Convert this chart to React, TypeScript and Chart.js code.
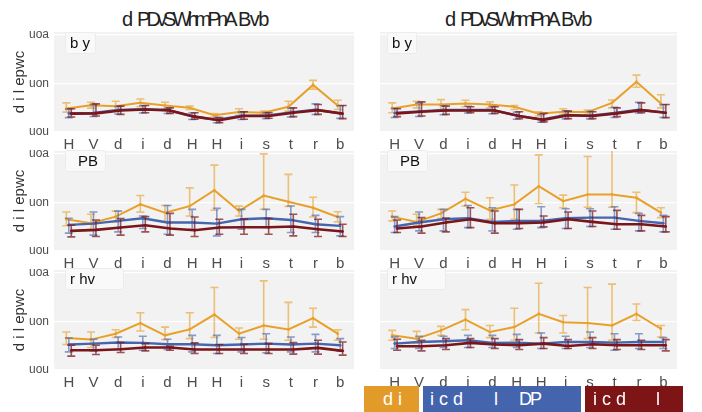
import React, { useEffect, useRef } from 'react';
import { Chart, registerables } from 'chart.js';
Chart.register(...registerables);

// ---------------- data ----------------
const categories = ['H', 'V', 'd', 'i', 'd', 'H', 'H', 'i', 's', 't', 'r', 'b'];
const yTickValues = [0, 0.5, 1.0];
const yTickLabels = ['uou', 'uon', 'uoa'];
const columnTitleParts = ['d', 'PDvSWhmPnA', 'Bvb'];
const rowLabels = ['b y', 'PB', 'r hv'];
const yAxisTitle = 'd i l epwc';
const seriesNames = ['d i', 'i c d', 'l', 'DP'];

// row 1 ("b y"), left column
const byLeftOrange = [0.242, 0.276, 0.266, 0.300, 0.273, 0.249, 0.172, 0.205, 0.199, 0.260, 0.485, 0.273];
const byLeftOrangeLo = [0.205, 0.246, 0.215, 0.260, 0.240, 0.232, 0.155, 0.172, 0.182, 0.215, 0.441, 0.232];
const byLeftOrangeHi = [0.300, 0.307, 0.317, 0.340, 0.307, 0.266, 0.189, 0.239, 0.215, 0.317, 0.532, 0.327];
const byLeftBlue = [0.192, 0.196, 0.226, 0.236, 0.226, 0.162, 0.125, 0.169, 0.169, 0.202, 0.229, 0.192];
const byLeftBlueLo = [0.148, 0.160, 0.185, 0.195, 0.190, 0.128, 0.095, 0.128, 0.138, 0.155, 0.180, 0.140];
const byLeftBlueHi = [0.235, 0.285, 0.262, 0.270, 0.245, 0.195, 0.150, 0.205, 0.200, 0.245, 0.290, 0.270];
const byLeftRed = [0.189, 0.192, 0.222, 0.232, 0.222, 0.158, 0.121, 0.165, 0.165, 0.199, 0.225, 0.189];
const byLeftRedLo = [0.155, 0.165, 0.182, 0.199, 0.192, 0.131, 0.097, 0.131, 0.141, 0.158, 0.182, 0.138];
const byLeftRedHi = [0.239, 0.290, 0.266, 0.273, 0.249, 0.199, 0.148, 0.209, 0.199, 0.249, 0.283, 0.273];

// row 1 ("b y"), right column
const byRightOrange = [0.242, 0.283, 0.283, 0.293, 0.283, 0.260, 0.189, 0.209, 0.205, 0.300, 0.518, 0.293];
const byRightOrangeLo = [0.199, 0.249, 0.232, 0.260, 0.249, 0.232, 0.165, 0.182, 0.182, 0.249, 0.461, 0.249];
const byRightOrangeHi = [0.300, 0.317, 0.333, 0.327, 0.310, 0.273, 0.209, 0.239, 0.226, 0.330, 0.586, 0.384];
const byRightBlue = [0.196, 0.212, 0.226, 0.226, 0.226, 0.169, 0.128, 0.175, 0.169, 0.196, 0.229, 0.202];
const byRightBlueLo = [0.150, 0.160, 0.178, 0.195, 0.188, 0.132, 0.100, 0.135, 0.135, 0.150, 0.195, 0.150];
const byRightBlueHi = [0.245, 0.300, 0.270, 0.265, 0.262, 0.205, 0.180, 0.218, 0.212, 0.255, 0.305, 0.280];
const byRightRed = [0.192, 0.209, 0.222, 0.222, 0.222, 0.165, 0.125, 0.172, 0.165, 0.192, 0.225, 0.199];
const byRightRedLo = [0.158, 0.165, 0.182, 0.199, 0.192, 0.138, 0.104, 0.138, 0.138, 0.158, 0.199, 0.148];
const byRightRedHi = [0.239, 0.310, 0.266, 0.260, 0.260, 0.209, 0.192, 0.215, 0.209, 0.249, 0.300, 0.283];

// row 2 ("PB"), left column
const pbLeftOrange = [0.327, 0.286, 0.354, 0.480, 0.395, 0.462, 0.626, 0.411, 0.571, 0.507, 0.446, 0.350];
const pbLeftOrangeLo = [0.260, 0.220, 0.300, 0.400, 0.300, 0.360, 0.420, 0.360, 0.430, 0.460, 0.350, 0.300];
const pbLeftOrangeHi = [0.401, 0.378, 0.411, 0.571, 0.469, 0.650, 0.885, 0.462, 1.000, 0.789, 0.554, 0.405];
const pbLeftBlue = [0.269, 0.282, 0.310, 0.337, 0.293, 0.293, 0.282, 0.327, 0.337, 0.320, 0.276, 0.259];
const pbLeftBlueLo = [0.184, 0.163, 0.197, 0.232, 0.173, 0.224, 0.156, 0.224, 0.242, 0.191, 0.191, 0.156];
const pbLeftBlueHi = [0.337, 0.401, 0.411, 0.360, 0.469, 0.429, 0.439, 0.429, 0.429, 0.463, 0.367, 0.354];
const pbLeftRed = [0.207, 0.218, 0.242, 0.265, 0.232, 0.214, 0.242, 0.245, 0.245, 0.252, 0.224, 0.201];
const pbLeftRedLo = [0.146, 0.150, 0.163, 0.197, 0.163, 0.150, 0.173, 0.173, 0.173, 0.156, 0.150, 0.150];
const pbLeftRedHi = [0.265, 0.319, 0.334, 0.354, 0.388, 0.350, 0.327, 0.327, 0.334, 0.378, 0.327, 0.276];

// row 2 ("PB"), right column
const pbRightOrange = [0.354, 0.300, 0.388, 0.537, 0.418, 0.480, 0.667, 0.514, 0.582, 0.582, 0.548, 0.395];
const pbRightOrangeLo = [0.310, 0.260, 0.337, 0.463, 0.327, 0.327, 0.490, 0.446, 0.450, 0.450, 0.395, 0.344];
const pbRightOrangeHi = [0.412, 0.378, 0.429, 0.605, 0.548, 0.680, 0.990, 0.575, 0.973, 1.040, 0.605, 0.446];
const pbRightBlue = [0.252, 0.293, 0.327, 0.337, 0.300, 0.310, 0.310, 0.337, 0.344, 0.344, 0.310, 0.286];
const pbRightBlueLo = [0.190, 0.207, 0.207, 0.241, 0.207, 0.224, 0.241, 0.231, 0.252, 0.224, 0.207, 0.197];
const pbRightBlueHi = [0.354, 0.401, 0.429, 0.469, 0.446, 0.429, 0.456, 0.435, 0.435, 0.456, 0.388, 0.367];
const pbRightRed = [0.231, 0.252, 0.293, 0.327, 0.286, 0.286, 0.293, 0.327, 0.300, 0.276, 0.276, 0.252];
const pbRightRedLo = [0.190, 0.184, 0.197, 0.241, 0.184, 0.231, 0.248, 0.231, 0.252, 0.224, 0.207, 0.197];
const pbRightRedHi = [0.320, 0.344, 0.340, 0.446, 0.412, 0.429, 0.361, 0.401, 0.412, 0.418, 0.367, 0.354];

// row 3 ("r hv"), left column
const rhvLeftOrange = [0.330, 0.313, 0.374, 0.483, 0.357, 0.418, 0.571, 0.374, 0.459, 0.418, 0.534, 0.374];
const rhvLeftOrangeLo = [0.262, 0.232, 0.334, 0.401, 0.313, 0.323, 0.334, 0.316, 0.316, 0.306, 0.442, 0.306];
const rhvLeftOrangeHi = [0.391, 0.391, 0.415, 0.589, 0.442, 0.589, 0.850, 0.432, 0.918, 0.697, 0.636, 0.415];
const rhvLeftBlue = [0.262, 0.272, 0.283, 0.279, 0.265, 0.265, 0.255, 0.262, 0.272, 0.262, 0.272, 0.255];
const rhvLeftBlueLo = [0.187, 0.197, 0.211, 0.204, 0.211, 0.187, 0.170, 0.187, 0.177, 0.187, 0.187, 0.197];
const rhvLeftBlueHi = [0.330, 0.316, 0.340, 0.347, 0.316, 0.357, 0.357, 0.334, 0.374, 0.340, 0.367, 0.323];
const rhvLeftRed = [0.204, 0.204, 0.214, 0.231, 0.231, 0.211, 0.211, 0.211, 0.211, 0.211, 0.228, 0.197];
const rhvLeftRedLo = [0.143, 0.160, 0.181, 0.197, 0.204, 0.170, 0.170, 0.170, 0.170, 0.163, 0.163, 0.153];
const rhvLeftRedHi = [0.255, 0.255, 0.283, 0.272, 0.245, 0.279, 0.262, 0.265, 0.272, 0.283, 0.306, 0.289];

// row 3 ("r hv"), right column
const rhvRightOrange = [0.357, 0.323, 0.408, 0.520, 0.391, 0.442, 0.578, 0.493, 0.483, 0.459, 0.578, 0.425];
const rhvRightOrangeLo = [0.306, 0.279, 0.357, 0.415, 0.333, 0.306, 0.381, 0.381, 0.323, 0.306, 0.510, 0.340];
const rhvRightOrangeHi = [0.408, 0.398, 0.449, 0.622, 0.459, 0.636, 0.894, 0.561, 0.850, 0.884, 0.680, 0.459];
const rhvRightBlue = [0.272, 0.289, 0.296, 0.306, 0.279, 0.282, 0.272, 0.289, 0.289, 0.282, 0.289, 0.289];
const rhvRightBlueLo = [0.221, 0.221, 0.231, 0.231, 0.231, 0.231, 0.221, 0.221, 0.231, 0.204, 0.221, 0.221];
const rhvRightBlueHi = [0.340, 0.347, 0.347, 0.357, 0.357, 0.367, 0.381, 0.347, 0.391, 0.374, 0.374, 0.333];
const rhvRightRed = [0.245, 0.245, 0.255, 0.279, 0.262, 0.255, 0.272, 0.248, 0.265, 0.255, 0.255, 0.255];
const rhvRightRedLo = [0.204, 0.197, 0.211, 0.231, 0.221, 0.211, 0.221, 0.221, 0.221, 0.211, 0.211, 0.197];
const rhvRightRedHi = [0.316, 0.306, 0.323, 0.323, 0.323, 0.313, 0.333, 0.313, 0.333, 0.313, 0.306, 0.313];

// ---------------- styles / layout ----------------
const ORANGE = '#E8A02A';
const BLUE = '#4565AE';
const RED = '#7A1519';
const ORANGE_ERR = 'rgba(232,160,42,0.62)';
const BLUE_ERR = 'rgba(69,101,174,0.62)';
const RED_ERR = 'rgba(122,21,25,0.72)';
const FONT = '"Liberation Sans", Arial, Helvetica, sans-serif';

const PLOT_LEFT = [54, 376];
const PLOT_RIGHT = [358, 681];
const PLOT_TOP = [32, 151, 270];
const PLOT_H = 100;
const TOP_PAD = 10;
const XAXIS_H = 26;

type Triple = [number[], number[], number[]];
const panels: { orange: Triple; blue: Triple; red: Triple }[][] = [
  [
    { orange: [byLeftOrange, byLeftOrangeLo, byLeftOrangeHi], blue: [byLeftBlue, byLeftBlueLo, byLeftBlueHi], red: [byLeftRed, byLeftRedLo, byLeftRedHi] },
    { orange: [byRightOrange, byRightOrangeLo, byRightOrangeHi], blue: [byRightBlue, byRightBlueLo, byRightBlueHi], red: [byRightRed, byRightRedLo, byRightRedHi] },
  ],
  [
    { orange: [pbLeftOrange, pbLeftOrangeLo, pbLeftOrangeHi], blue: [pbLeftBlue, pbLeftBlueLo, pbLeftBlueHi], red: [pbLeftRed, pbLeftRedLo, pbLeftRedHi] },
    { orange: [pbRightOrange, pbRightOrangeLo, pbRightOrangeHi], blue: [pbRightBlue, pbRightBlueLo, pbRightBlueHi], red: [pbRightRed, pbRightRedLo, pbRightRedHi] },
  ],
  [
    { orange: [rhvLeftOrange, rhvLeftOrangeLo, rhvLeftOrangeHi], blue: [rhvLeftBlue, rhvLeftBlueLo, rhvLeftBlueHi], red: [rhvLeftRed, rhvLeftRedLo, rhvLeftRedHi] },
    { orange: [rhvRightOrange, rhvRightOrangeLo, rhvRightOrangeHi], blue: [rhvRightBlue, rhvRightBlueLo, rhvRightBlueHi], red: [rhvRightRed, rhvRightRedLo, rhvRightRedHi] },
  ],
];

const bgPlugin = {
  id: 'plotBg',
  beforeDraw(chart: any) {
    const { ctx, chartArea: a } = chart;
    ctx.save();
    ctx.fillStyle = '#F2F2F2';
    ctx.fillRect(a.left, a.top, a.right - a.left, a.bottom - a.top);
    ctx.restore();
  },
};

const errPlugin = {
  id: 'errBars',
  beforeDatasetDraw(chart: any, args: any) {
    const ds: any = chart.data.datasets[args.index];
    const { ctx, chartArea: a } = chart;
    const xs = chart.scales.x;
    const ys = chart.scales.y;
    ctx.save();
    ctx.beginPath();
    ctx.rect(a.left, a.top, a.right - a.left, a.bottom - a.top);
    ctx.clip();
    ctx.strokeStyle = ds.errColor;
    ctx.lineWidth = 1.6;
    ctx.beginPath();
    ds.data.forEach((p: any, j: number) => {
      const x = xs.getPixelForValue(p.x);
      const y1 = ys.getPixelForValue(ds.errLo[j]);
      const y2 = ys.getPixelForValue(ds.errHi[j]);
      ctx.moveTo(x, y1);
      ctx.lineTo(x, y2);
      ctx.moveTo(x - 4, y1);
      ctx.lineTo(x + 4, y1);
      ctx.moveTo(x - 4, y2);
      ctx.lineTo(x + 4, y2);
    });
    ctx.stroke();
    ctx.restore();
  },
};

function makeDataset(t: Triple, color: string, errColor: string, dodge: number, width: number) {
  return {
    data: t[0].map((v, i) => ({ x: i + dodge, y: v })),
    errLo: t[1],
    errHi: t[2],
    errColor,
    borderColor: color,
    backgroundColor: color,
    borderWidth: width,
    pointRadius: 1.3,
    pointBorderWidth: 0,
    pointBackgroundColor: color,
    tension: 0,
    fill: false,
  } as any;
}

function Panel({ row, col }: { row: number; col: number }) {
  const ref = useRef<HTMLCanvasElement>(null);
  const left = col === 0 ? 0 : PLOT_LEFT[1];
  const width = PLOT_RIGHT[col] - left;
  const height = TOP_PAD + PLOT_H + XAXIS_H;
  useEffect(() => {
    const p = panels[row][col];
    const chart = new Chart(ref.current as HTMLCanvasElement, {
      type: 'line',
      data: {
        datasets: [
          makeDataset(p.red, RED, RED_ERR, 0.1, 2.6),
          makeDataset(p.blue, BLUE, BLUE_ERR, 0, 2.4),
          makeDataset(p.orange, ORANGE, ORANGE_ERR, -0.1, 2),
        ],
      },
      options: {
        animation: false,
        responsive: false,
        maintainAspectRatio: false,
        layout: { padding: { top: TOP_PAD, left: 0, right: 0, bottom: 0 } },
        plugins: { legend: { display: false }, tooltip: { enabled: false }, title: { display: false } },
        scales: {
          x: {
            type: 'linear',
            min: -0.6,
            max: 11.56,
            afterBuildTicks: (s: any) => {
              s.ticks = categories.map((_, i) => ({ value: i }));
            },
            ticks: {
              callback: (v: any) => categories[v as number],
              font: { size: 15, family: FONT },
              color: '#4d4d4d',
              padding: 4,
              autoSkip: false,
              maxRotation: 0,
            },
            grid: { display: false, drawTicks: false },
            border: { display: false },
            afterFit: (s: any) => {
              s.height = XAXIS_H;
              s.paddingLeft = 0;
              s.paddingRight = 0;
            },
          } as any,
          y: {
            min: 0,
            max: 1.03,
            afterBuildTicks: (s: any) => {
              s.ticks = yTickValues.map((v) => ({ value: v }));
            },
            ticks: {
              display: col === 0,
              callback: (v: any) => yTickLabels[yTickValues.indexOf(v as number)],
              font: { size: 12, family: FONT },
              color: '#4d4d4d',
              padding: 5,
            },
            grid: { color: '#ffffff', lineWidth: 1.2, drawTicks: false },
            border: { display: false },
            title: {
              display: col === 0,
              text: yAxisTitle,
              font: { size: 15, family: FONT },
              color: '#333333',
              padding: { top: 11, bottom: 0 },
            },
            afterFit: (s: any) => {
              s.width = col === 0 ? PLOT_LEFT[0] : 0;
              s.paddingTop = 0;
              s.paddingBottom = 0;
            },
          } as any,
        },
      },
      plugins: [bgPlugin, errPlugin],
    });
    return () => chart.destroy();
  }, [row, col]);
  return (
    <canvas
      ref={ref}
      width={width}
      height={height}
      style={{ position: 'absolute', left, top: PLOT_TOP[row] - TOP_PAD, width, height }}
    />
  );
}

const labelPadLeft = [4, 12, 4];
const labelBoxWidth = [[31, 41, 59], [30, 41, 59]];
const labelBoxTop = [32, 150, 268];

export default function App() {
  const cells: React.ReactNode[] = [];
  for (let r = 0; r < 3; r++) {
    for (let c = 0; c < 2; c++) {
      cells.push(<Panel key={`p${r}${c}`} row={r} col={c} />);
      cells.push(
        <div
          key={`l${r}${c}`}
          style={{
            position: 'absolute',
            left: PLOT_LEFT[c] + 11,
            top: labelBoxTop[r],
            width: labelBoxWidth[c][r],
            height: 22,
            boxSizing: 'border-box',
            background: 'rgba(250,250,250,0.9)',
            border: '1px solid #ececec',
            borderRadius: 2,
            paddingLeft: labelPadLeft[r],
            fontSize: 15,
            lineHeight: '20px',
            color: '#111',
            whiteSpace: 'pre',
            fontFamily: FONT,
          }}
        >
          {rowLabels[r]}
        </div>
      );
    }
  }
  const titleLeft = [122, 445];
  const titleStyle = { position: 'absolute' as const, top: 7, fontSize: 20, color: '#222', whiteSpace: 'pre' as const, lineHeight: '24px' };
  return (
    <div style={{ position: 'absolute', left: 0, top: 0, width: 702, height: 412, background: '#fff', overflow: 'hidden', fontFamily: FONT }}>
      {titleLeft.map((x, i) => (
        <React.Fragment key={`t${i}`}>
          <div style={{ ...titleStyle, left: x }}>{columnTitleParts[0]}</div>
          <div style={{ ...titleStyle, left: x + 15, letterSpacing: '-3.9px' }}>{columnTitleParts[1]}</div>
          <div style={{ ...titleStyle, left: x + 116, letterSpacing: '-1.5px' }}>{columnTitleParts[2]}</div>
        </React.Fragment>
      ))}
      {cells}
      <div style={{ position: 'absolute', left: 364, top: 386, width: 55, height: 26, background: '#E29B29' }}>
        <span style={{ position: 'absolute', left: 19, top: 3, fontSize: 18, color: '#fff', whiteSpace: 'pre' }}>{seriesNames[0]}</span>
      </div>
      <div style={{ position: 'absolute', left: 423, top: 386, width: 158, height: 26, background: '#4465AE' }}>
        <span style={{ position: 'absolute', left: 7, top: 3, fontSize: 18, color: '#fff', whiteSpace: 'pre' }}>{seriesNames[1]}</span>
        <span style={{ position: 'absolute', left: 71, top: 3, fontSize: 18, color: '#fff', whiteSpace: 'pre' }}>{seriesNames[2]}</span>
        <span style={{ position: 'absolute', left: 96, top: 3, fontSize: 18, color: '#fff', whiteSpace: 'pre', letterSpacing: '-2px' }}>{seriesNames[3]}</span>
      </div>
      <div style={{ position: 'absolute', left: 585, top: 386, width: 98, height: 26, background: '#7D1416' }}>
        <span style={{ position: 'absolute', left: 8, top: 3, fontSize: 18, color: '#fff', whiteSpace: 'pre' }}>{seriesNames[1]}</span>
        <span style={{ position: 'absolute', left: 71, top: 3, fontSize: 18, color: '#fff', whiteSpace: 'pre' }}>{seriesNames[2]}</span>
      </div>
    </div>
  );
}
